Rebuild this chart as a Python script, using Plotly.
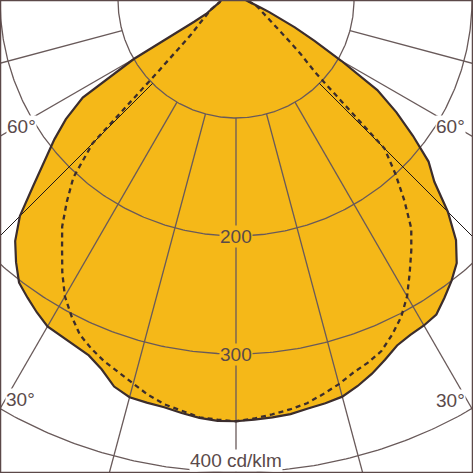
import numpy as np
import plotly.graph_objects as go

# gamma angles (deg from nadir, negative = left half), 2.5 deg steps
angles = [a * 2.5 for a in range(-36, 37)]

# luminous intensity, cd/klm - solid (filled) curve
solid_cd = [
    13, 13, 13.5, 14, 15, 16, 17, 19, 21, 24, 28, 40, 100,
    154, 176, 194, 212, 233, 259, 277, 290, 302, 308, 314, 319.5,
    321, 323, 326, 333, 343.5, 348.5, 349.5, 350.5, 353, 355.5, 357,
    357,
    356, 355, 354, 351.5, 350, 348, 343, 337, 330, 323, 320, 318.5,
    316, 308, 300, 291, 276, 254, 228, 213, 189, 166, 142, 103,
    75, 55, 40, 30, 23, 18, 14, 12, 10, 9.5, 9, 9,
]

# luminous intensity, cd/klm - dashed curve
dashed_cd = [
    13, 13, 13.5, 14, 15, 16, 18, 20, 23, 24.5, 26, 29, 32,
    36, 41, 48, 62, 88, 172, 204, 223, 242, 257, 274, 290,
    302, 313, 320, 326, 331, 337, 343, 348, 351, 355, 356,
    357,
    355, 352.5, 350, 347, 342, 337, 331, 327, 322, 313, 303, 290,
    274, 259, 244, 222, 200, 178, 92, 72, 56, 45, 38, 33,
    29, 26, 23, 21, 19, 17, 15, 13, 11, 10, 9.5, 9,
]

ring_values = [100, 200, 300, 400]
spoke_angles = [-75, -60, -45, -30, -15, 0, 15, 30, 45, 60, 75]

FILL = "#f5b818"
GRID = "rgb(105,90,90)"
INK = "#3b2d2d"
TEXT = "#5a4a4a"


def to_xy(theta_deg, r):
    t = np.radians(np.asarray(theta_deg, dtype=float))
    r = np.asarray(r, dtype=float)
    return r * np.sin(t), -r * np.cos(t)


fig = go.Figure()

sx, sy = to_xy(angles, solid_cd)
fig.add_trace(go.Scatter(x=sx, y=sy, fill="toself", fillcolor=FILL,
                         line=dict(width=0), mode="lines", hoverinfo="skip"))

# grid rings
arc = np.linspace(-90, 90, 361)
for rv in ring_values:
    gx, gy = to_xy(arc, np.full(arc.shape, rv))
    fig.add_trace(go.Scatter(x=gx, y=gy, mode="lines", hoverinfo="skip",
                             line=dict(color=GRID, width=1.3)))

# spokes, starting at the first ring
for a in spoke_angles:
    gx, gy = to_xy([a, a], [ring_values[0], 700])
    dark = abs(a) == 45
    fig.add_trace(go.Scatter(x=gx, y=gy, mode="lines", hoverinfo="skip",
                             line=dict(color="#1e1818" if dark else GRID,
                                       width=1.0 if dark else 1.3)))

fig.add_trace(go.Scatter(x=sx, y=sy, mode="lines", hoverinfo="skip",
                         line=dict(color=INK, width=2.2)))

dx, dy = to_xy(angles, dashed_cd)
fig.add_trace(go.Scatter(x=dx, y=dy, mode="lines", hoverinfo="skip",
                         line=dict(color=INK, width=2.3, dash="5px,4px")))

font = dict(family="Liberation Sans, Arial, sans-serif", size=19, color=TEXT)
labels = [
    (0, -200, "200", FILL),
    (0, -300, "300", FILL),
    (0, -390.5, "400 cd/klm", "white"),
    (-182, -107, "60°", "white"),
    (182, -107.5, "60°", "white"),
    (-183, -338.5, "30°", "white"),
    (182, -339, "30°", "white"),
]
for lx, ly, txt, bg in labels:
    fig.add_annotation(x=lx, y=ly, text=txt, showarrow=False, font=font,
                       bgcolor=bg, borderpad=0, xanchor="center",
                       yanchor="middle")

fig.add_shape(type="rect", xref="paper", yref="paper", x0=0, y0=0, x1=1, y1=1,
              line=dict(color="#5b4848", width=2.5), layer="above")

fig.update_xaxes(range=[-200, 200.85], visible=False, fixedrange=True)
fig.update_yaxes(range=[-400.85, 0], visible=False, fixedrange=True)
fig.update_layout(width=473, height=473, margin=dict(l=0, r=0, t=0, b=0),
                  showlegend=False, plot_bgcolor="white",
                  paper_bgcolor="white")

fig.write_html("out.html", config={"displayModeBar": False},
               post_script="document.body.style.margin='0';"
                           "document.body.style.overflow='hidden';")
